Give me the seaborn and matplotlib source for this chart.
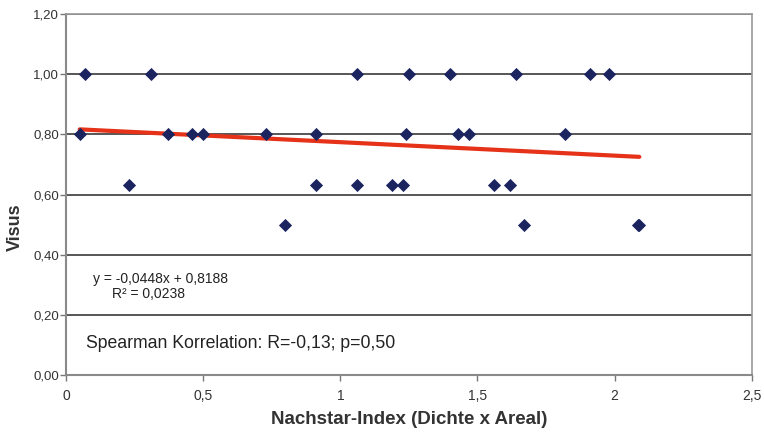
import numpy as np
import pandas as pd
import matplotlib
matplotlib.use("Agg")
import matplotlib.pyplot as plt
import seaborn as sns

# Data
x_vals = [0.07, 0.31, 1.06, 1.25, 1.40, 1.64, 1.91, 1.98,
          0.05, 0.37, 0.46, 0.50, 0.73, 0.91, 1.24, 1.43, 1.47, 1.82,
          0.23, 0.91, 1.06, 1.19, 1.23, 1.56, 1.62,
          0.80, 1.67, 2.085, 2.09]
y_vals = [1.00, 1.00, 1.00, 1.00, 1.00, 1.00, 1.00, 1.00,
          0.80, 0.80, 0.80, 0.80, 0.80, 0.80, 0.80, 0.80, 0.80, 0.80,
          0.63, 0.63, 0.63, 0.63, 0.63, 0.63, 0.63,
          0.50, 0.50, 0.50, 0.50]
slope = -0.0448
intercept = 0.8188
x_ticks = [0, 0.5, 1, 1.5, 2, 2.5]
x_tick_labels = ["0", "0,5", "1", "1,5", "2", "2,5"]
y_ticks = [0.0, 0.2, 0.4, 0.6, 0.8, 1.0, 1.2]
y_tick_labels = ["0,00", "0,20", "0,40", "0,60", "0,80", "1,00", "1,20"]
eq_text = "y = -0,0448x + 0,8188"
r2_text = "R\u00b2 = 0,0238"
spearman_text = "Spearman Korrelation: R=-0,13; p=0,50"
x_label = "Nachstar-Index (Dichte x Areal)"
y_label = "Visus"

sns.set_theme(style="white")
plt.rcParams['font.family'] = ['Liberation Sans', 'DejaVu Sans']

df = pd.DataFrame({"x": x_vals, "y": y_vals})
xfit = np.array([min(x_vals), max(x_vals)])
fit_df = pd.DataFrame({"x": xfit, "y": slope * xfit + intercept})

fig = plt.figure(figsize=(7.64, 4.33), dpi=100)
ax = fig.add_axes([0.0864, 0.134, 0.8976, 0.8336])

for yt in y_ticks[1:]:
    ax.axhline(yt, color="#3a3a3a", lw=1.2, zorder=1)

sns.lineplot(data=fit_df, x="x", y="y", ax=ax, color="#e53218", lw=3, zorder=2)
sns.scatterplot(data=df, x="x", y="y", ax=ax, marker="D", s=45,
                color="#1c2460", edgecolor="#1c2460", linewidth=0, zorder=3)

ax.set_xlim(0, 2.5)
ax.set_ylim(0, 1.2)
ax.set_xticks(x_ticks)
ax.set_xticklabels(x_tick_labels)
ax.set_yticks(y_ticks)
ax.set_yticklabels(y_tick_labels)
ax.tick_params(axis="both", colors="#777777", length=4, width=1)
ax.tick_params(axis="x", direction="out", bottom=True, pad=6, labelsize=10)
ax.tick_params(axis="y", direction="out", left=True, pad=1, labelsize=9.5)
for lbl in ax.get_xticklabels() + ax.get_yticklabels():
    lbl.set_color("#333333")

for side in ["left", "bottom"]:
    ax.spines[side].set_color("#8a8a8a")
    ax.spines[side].set_linewidth(1.5)
for side in ["top", "right"]:
    ax.spines[side].set_color("#9a9a9a")
    ax.spines[side].set_linewidth(1.2)

ax.set_xlabel(x_label, fontsize=13.5, fontweight="bold", color="#333333")
ax.xaxis.set_label_coords(0.5, -0.10)
ax.set_ylabel(y_label, fontsize=13, fontweight="bold", color="#333333")
ax.yaxis.set_label_coords(-0.061, 0.41)

ax.text(0.098, 0.318, eq_text, fontsize=10, color="#222222", ha="left", va="center")
ax.text(0.168, 0.268, r2_text, fontsize=10, color="#222222", ha="left", va="center")
ax.text(0.073, 0.106, spearman_text, fontsize=12.7, color="#222222", ha="left", va="center")

fig.savefig("out.png", dpi=100)
